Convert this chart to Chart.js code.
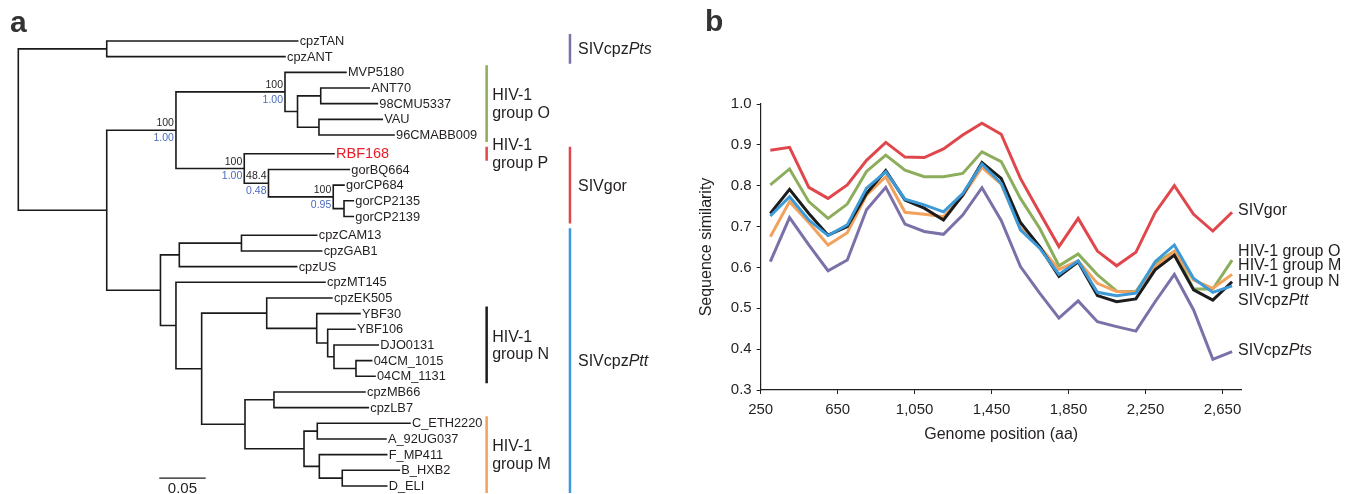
<!DOCTYPE html>
<html>
<head>
<meta charset="utf-8">
<script src="https://cdn.jsdelivr.net/npm/chart.js@4.4.0/dist/chart.umd.min.js"></script>
<style>
    html, body { margin: 0; padding: 0; background: #fff; }
    #wrap { position: relative; width: 1353px; height: 494px; }
    #treeBox { position: absolute; left: 0; top: 0; width: 690px; height: 494px; }
    #lineBox { position: absolute; left: 690px; top: 0; width: 663px; height: 494px; }
</style>
</head>
<body>
<div id="wrap">
    <div id="treeBox"><canvas id="treeChart"></canvas></div>
    <div id="lineBox"><canvas id="simChart"></canvas></div>
</div>
<script>
// ---------- panel a: phylogeny (preorder, parent index, branch length in subst./site) ----------
const nodeNames = ['', '', 'cpzTAN', 'cpzANT', '', '', '', 'MVP5180', '', '', 'ANT70', '98CMU5337', '', 'VAU', '96CMABB009',
    '', 'RBF168', '', 'gorBQ664', '', 'gorCP684', '', 'gorCP2135', 'gorCP2139',
    '', '', '', 'cpzCAM13', 'cpzGAB1', 'cpzUS', '', 'cpzMT145', '', '', 'cpzEK505', '', 'YBF30', '', 'YBF106', '', 'DJO0131', '',
    '04CM_1015', '04CM_1131', '', '', 'cpzMB66', 'cpzLB7', '', '', 'C_ETH2220', 'A_92UG037', '', 'F_MP411', '', 'B_HXB2', 'D_ELI'];
const nodeParents = [-1, 0, 1, 1, 0, 4, 5, 6, 6, 8, 9, 9, 8, 12, 12,
    5, 15, 15, 17, 17, 19, 19, 21, 21,
    4, 24, 25, 26, 26, 25, 24, 30, 30, 32, 33, 33, 35, 35, 37, 37, 39, 39,
    41, 41, 32, 44, 45, 45, 44, 48, 49, 49, 48, 52, 52, 54, 54];
const branchLengths = [0, 0.0953, 0.2058, 0.1921, 0.0953, 0.0746, 0.1175, 0.0657, 0.0135, 0.0250, 0.0523, 0.0610, 0.0231, 0.0682, 0.0809,
    0.0736, 0.0967, 0.0261, 0.0871, 0.0698, 0.0116, 0.0116, 0.0100, 0.0100,
    0.0579, 0.0203, 0.0670, 0.0811, 0.0864, 0.1265, 0.0167, 0.1606, 0.0277, 0.0701, 0.0703, 0.0539, 0.0466, 0.0118, 0.0294, 0.0068, 0.0477, 0.0237,
    0.0169, 0.0205, 0.0467, 0.0312, 0.0981, 0.1017, 0.0636, 0.0143, 0.0999, 0.0740, 0.0165, 0.0726, 0.0247, 0.0615, 0.0479];

const supportNodes = [5, 6, 15, 17, 19];
const bootstrapValues = [100, 100, 100, 48.4, 100];
const posteriorValues = [1.00, 1.00, 1.00, 0.48, 0.95];
const gapBeforeLeaves = ['RBF168', 'cpzCAM13'];
const highlightLeaf = 'RBF168';
const scaleBarLength = 0.05;

// clade brackets
const bracketLabels = [['HIV-1', 'group O'], ['HIV-1', 'group P'], ['HIV-1', 'group N'], ['HIV-1', 'group M'],
    ['SIVcpz*Pts*'], ['SIVgor'], ['SIVcpz*Ptt*']];
const bracketFirst = ['MVP5180', 'RBF168', 'YBF30', 'C_ETH2220', 'cpzTAN', 'RBF168', 'cpzCAM13'];
const bracketLast = ['96CMABB009', 'RBF168', '04CM_1131', 'D_ELI', 'cpzANT', 'gorCP2139', 'D_ELI'];
const bracketColumn = [0, 0, 0, 0, 1, 1, 1];

// ---------- panel b: sequence similarity ----------
const genomePositions = [300, 400, 500, 600, 700, 800, 900, 1000, 1100, 1200, 1300, 1400, 1500,
    1600, 1700, 1800, 1900, 2000, 2100, 2200, 2300, 2400, 2500, 2600, 2700];
const sivGor = [0.887, 0.894, 0.796, 0.769, 0.802, 0.862, 0.906, 0.870, 0.869, 0.890, 0.924, 0.953, 0.926,
    0.818, 0.734, 0.651, 0.720, 0.640, 0.604, 0.637, 0.734, 0.800, 0.730, 0.689, 0.735];
const hiv1GroupO = [0.802, 0.841, 0.761, 0.720, 0.755, 0.835, 0.875, 0.838, 0.822, 0.822, 0.830, 0.883, 0.859,
    0.769, 0.696, 0.604, 0.633, 0.582, 0.542, 0.541, 0.610, 0.639, 0.547, 0.547, 0.618];
const hiv1GroupM = [0.675, 0.761, 0.710, 0.655, 0.685, 0.777, 0.822, 0.735, 0.730, 0.724, 0.775, 0.845, 0.804,
    0.696, 0.651, 0.595, 0.616, 0.561, 0.541, 0.539, 0.602, 0.639, 0.569, 0.549, 0.583];
const hiv1GroupN = [0.732, 0.791, 0.732, 0.679, 0.700, 0.781, 0.837, 0.765, 0.745, 0.716, 0.777, 0.857, 0.818,
    0.710, 0.651, 0.578, 0.614, 0.531, 0.516, 0.523, 0.594, 0.630, 0.545, 0.520, 0.565];
const sivCpzPtt = [0.726, 0.773, 0.716, 0.678, 0.704, 0.794, 0.834, 0.767, 0.753, 0.736, 0.781, 0.853, 0.806,
    0.692, 0.647, 0.583, 0.616, 0.539, 0.531, 0.537, 0.614, 0.655, 0.573, 0.539, 0.555];
const sivCpzPts = [0.614, 0.722, 0.655, 0.592, 0.618, 0.741, 0.796, 0.706, 0.688, 0.681, 0.728, 0.795, 0.715,
    0.602, 0.537, 0.476, 0.518, 0.467, 0.455, 0.444, 0.516, 0.583, 0.496, 0.375, 0.394];
const seriesNames = ['SIVgor', 'HIV-1 group O', 'HIV-1 group M', 'HIV-1 group N', 'SIVcpz*Ptt*', 'SIVcpz*Pts*'];
const xTickValues = [250, 650, 1050, 1450, 1850, 2250, 2650];
const yTickValues = [0.3, 0.4, 0.5, 0.6, 0.7, 0.8, 0.9, 1.0];

// ---------- styles ----------
const fontFamily = "'Liberation Sans', Arial, Helvetica, sans-serif";
const textColor = '#231f20';
const seriesColors = ['#e0474c', '#8cad5b', '#f2a25c', '#1c1c1c', '#3d9ad8', '#7b70a8'];
const seriesOrder = [6, 4, 3, 2, 1, 5];
const seriesLabelY = [0.738, 0.639, 0.604, 0.565, 0.520, 0.396];
const bracketColors = ['#8cad5b', '#e0474c', '#1c1c1c', '#f2a25c', '#7b70a8', '#e0474c', '#3d9ad8'];
const bracketX = [0.5047, 0.5945];

Chart.defaults.font.family = fontFamily;
Chart.defaults.color = textColor;

// text with *italic* runs
function drawRich(ctx, text, x, y, size) {
    let cx = x;
    text.split('*').forEach((part, i) => {
        ctx.font = (i % 2 ? 'italic ' : '') + size + 'px ' + fontFamily;
        ctx.fillText(part, cx, y);
        cx += ctx.measureText(part).width;
    });
}

// tree layout from the arrays
const children = nodeNames.map(() => []);
nodeParents.forEach((p, i) => { if (p >= 0) children[p].push(i); });
const nodeDepth = [];
nodeParents.forEach((p, i) => { nodeDepth[i] = (p >= 0 ? nodeDepth[p] : 0) + branchLengths[i]; });
const nodeRow = [];
const leafIds = [];
let row = 0;
nodeNames.forEach((name, i) => {
    if (children[i].length) return;
    if (leafIds.length && gapBeforeLeaves.includes(name)) row += 0.2;
    nodeRow[i] = row;
    leafIds.push(i);
    row += 1;
});
for (let i = nodeNames.length - 1; i >= 0; i--) {
    const c = children[i];
    if (c.length) nodeRow[i] = (nodeRow[c[0]] + nodeRow[c[c.length - 1]]) / 2;
}
const rowOf = name => nodeRow[nodeNames.indexOf(name)];

const treePoints = [];
nodeNames.forEach((name, i) => {
    const c = children[i];
    if (c.length) {
        treePoints.push({ x: nodeDepth[i], y: nodeRow[c[0]] }, { x: nodeDepth[i], y: nodeRow[c[c.length - 1]] }, { x: nodeDepth[i], y: null });
    }
    const p = nodeParents[i];
    if (p >= 0) {
        treePoints.push({ x: nodeDepth[p], y: nodeRow[i] }, { x: nodeDepth[i], y: nodeRow[i] }, { x: nodeDepth[i], y: null });
    }
});

const treeDatasets = [{
    data: treePoints,
    showLine: true,
    borderColor: '#1a1a1a',
    borderWidth: 1.6,
    borderCapStyle: 'square',
    pointRadius: 0,
    spanGaps: false,
    clip: false,
}];
bracketLabels.forEach((lab, k) => {
    const bx = bracketX[bracketColumn[k]];
    treeDatasets.push({
        data: [{ x: bx, y: rowOf(bracketFirst[k]) - 0.45 }, { x: bx, y: rowOf(bracketLast[k]) + 0.45 }],
        showLine: true,
        borderColor: bracketColors[k],
        borderWidth: 2.5,
        pointRadius: 0,
        clip: false,
    });
});
const scaleBarStart = 0.1519;
const scaleBarRow = 27.9;
treeDatasets.push({
    data: [{ x: scaleBarStart, y: scaleBarRow }, { x: scaleBarStart + scaleBarLength, y: scaleBarRow }],
    showLine: true,
    borderColor: '#1a1a1a',
    borderWidth: 1.4,
    pointRadius: 0,
    clip: false,
});

const treeTextPlugin = {
    id: 'treeText',
    afterDatasetsDraw(chart) {
        const { ctx, scales: { x, y } } = chart;
        ctx.save();
        ctx.textBaseline = 'middle';
        ctx.textAlign = 'left';

        // leaf names
        leafIds.forEach(id => {
            const name = nodeNames[id];
            const red = name === highlightLeaf;
            ctx.fillStyle = red ? '#ed1c24' : textColor;
            ctx.font = (red ? 14.5 : 12.8) + 'px ' + fontFamily;
            ctx.fillText(name, x.getPixelForValue(nodeDepth[id]) + 2, y.getPixelForValue(nodeRow[id]) + 0.5);
        });

        // bootstrap (black) above, posterior (blue) below each supported branch
        ctx.textAlign = 'right';
        ctx.font = '10.5px ' + fontFamily;
        supportNodes.forEach((id, k) => {
            const px = x.getPixelForValue(nodeDepth[id]) - 2;
            const py = y.getPixelForValue(nodeRow[id]);
            ctx.fillStyle = textColor;
            ctx.textBaseline = 'bottom';
            ctx.fillText(String(bootstrapValues[k]), px, py - 1.5);
            ctx.fillStyle = '#4c6bbf';
            ctx.textBaseline = 'top';
            ctx.fillText(posteriorValues[k].toFixed(2), px, py + 2.5);
        });

        // bracket labels
        ctx.textAlign = 'left';
        ctx.textBaseline = 'middle';
        ctx.fillStyle = textColor;
        bracketLabels.forEach((lines, k) => {
            const bx = x.getPixelForValue(bracketX[bracketColumn[k]]) + (bracketColumn[k] ? 8 : 5.5);
            const mid = (y.getPixelForValue(rowOf(bracketFirst[k])) + y.getPixelForValue(rowOf(bracketLast[k]))) / 2;
            lines.forEach((line, j) => {
                drawRich(ctx, line, bx, mid + (j - (lines.length - 1) / 2) * 17.5 + 1, 16);
            });
        });

        // scale bar label
        ctx.textAlign = 'center';
        ctx.font = '15px ' + fontFamily;
        ctx.fillText(String(scaleBarLength), x.getPixelForValue(scaleBarStart + scaleBarLength / 2), y.getPixelForValue(scaleBarRow) + 11);

        // panel letter
        ctx.textAlign = 'left';
        ctx.textBaseline = 'alphabetic';
        ctx.font = 'bold 30px ' + fontFamily;
        ctx.fillStyle = '#333';
        ctx.fillText('a', 10, 32);
        ctx.restore();
    }
};

const treeChart = new Chart(document.getElementById('treeChart'), {
    type: 'scatter',
    data: { datasets: treeDatasets },
    options: {
        responsive: true,
        maintainAspectRatio: false,
        animation: false,
        events: [],
        layout: { padding: { left: 18.3, right: 20, top: 0, bottom: 0 } },
        scales: {
            x: { type: 'linear', display: false, min: 0, max: 0.7023 },
            y: { type: 'linear', display: false, reverse: true, min: -2.6166, max: 28.911 },
        },
        plugins: { legend: { display: false }, tooltip: { enabled: false } },
    },
    plugins: [treeTextPlugin],
});

// ---------- panel b chart ----------
const seriesValues = [sivGor, hiv1GroupO, hiv1GroupM, hiv1GroupN, sivCpzPtt, sivCpzPts];

const seriesLabelPlugin = {
    id: 'seriesLabels',
    afterDatasetsDraw(chart) {
        const { ctx, scales: { x, y } } = chart;
        ctx.save();
        ctx.fillStyle = textColor;
        ctx.textAlign = 'left';
        ctx.textBaseline = 'middle';
        const lx = x.getPixelForValue(genomePositions[genomePositions.length - 1]) + 6;
        seriesNames.forEach((name, k) => {
            drawRich(ctx, name, lx, y.getPixelForValue(seriesLabelY[k]), 16);
        });
        ctx.font = 'bold 30px ' + fontFamily;
        ctx.fillStyle = '#333';
        ctx.textBaseline = 'alphabetic';
        ctx.fillText('b', 15, 31);
        ctx.restore();
    }
};

const simChart = new Chart(document.getElementById('simChart'), {
    type: 'line',
    data: {
        datasets: seriesNames.map((name, k) => ({
            label: name.replace(/\*/g, ''),
            data: genomePositions.map((g, i) => ({ x: g, y: seriesValues[k][i] })),
            borderColor: seriesColors[k],
            borderWidth: 3,
            pointRadius: 0,
            tension: 0,
            order: seriesOrder[k],
        })),
    },
    options: {
        responsive: true,
        maintainAspectRatio: false,
        animation: false,
        events: [],
        layout: { padding: { left: 0, top: 104, right: 111.3, bottom: 44 } },
        plugins: { legend: { display: false }, tooltip: { enabled: false } },
        scales: {
            x: {
                type: 'linear',
                min: 250,
                max: 2750,
                afterBuildTicks: (axis) => { axis.ticks = xTickValues.map(value => ({ value })); },
                afterFit: (axis) => { axis.height = 60; },
                ticks: {
                    callback: (v) => v.toLocaleString('en-US'),
                    font: { size: 15 },
                    color: textColor,
                    padding: 7,
                    maxRotation: 0,
                    autoSkip: false,
                },
                grid: { drawOnChartArea: false, drawTicks: true, tickLength: 4, color: textColor },
                border: { display: true, color: textColor, width: 1.2 },
                title: { display: true, text: 'Genome position (aa)', font: { size: 16 }, color: textColor, padding: { top: 0, bottom: 5.4 } },
            },
            y: {
                type: 'linear',
                min: 0.3,
                max: 1.0,
                afterBuildTicks: (axis) => { axis.ticks = yTickValues.map(value => ({ value })); },
                afterFit: (axis) => { axis.width = 70.7; },
                ticks: {
                    callback: (v) => v.toFixed(1),
                    font: { size: 15 },
                    color: textColor,
                    padding: 5,
                    autoSkip: false,
                },
                grid: { drawOnChartArea: false, drawTicks: true, tickLength: 4, color: textColor },
                border: { display: true, color: textColor, width: 1.2 },
                title: { display: true, text: 'Sequence similarity', font: { size: 16 }, color: textColor, padding: { top: 7.4, bottom: 0 } },
            },
        },
    },
    plugins: [seriesLabelPlugin],
});
</script>
</body>
</html>
